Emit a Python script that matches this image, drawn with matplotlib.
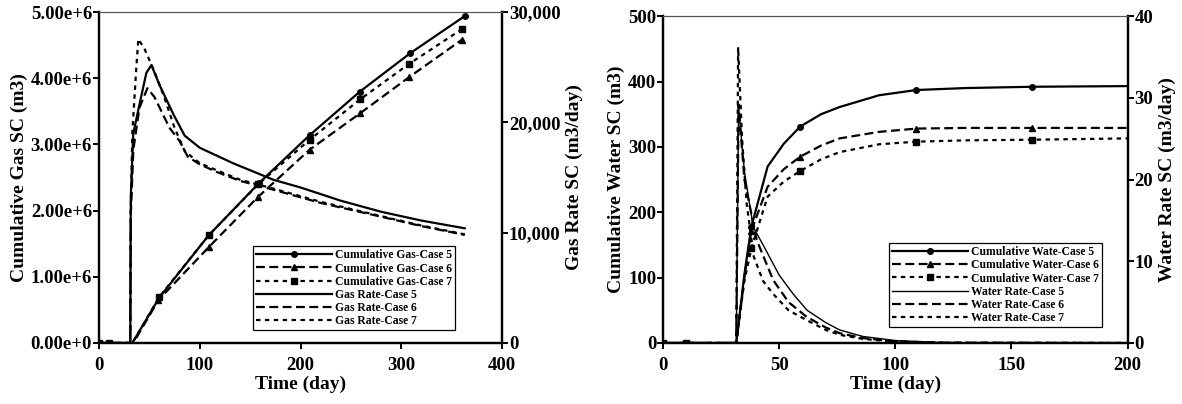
import numpy as np
import matplotlib.pyplot as plt
from matplotlib.ticker import FuncFormatter

# ---- данные: газ ----
gas_cum_t5 = [0, 10, 30, 33, 60, 109, 159, 209, 259, 309, 363]
gas_cum_5 = [0, 0, 0, 0, 0.69e6, 1.63e6, 2.42e6, 3.14e6, 3.80e6, 4.38e6, 4.94e6]
gas_cum_t6 = [0, 10, 30, 34, 59, 109, 158, 209, 259, 308, 360]
gas_cum_6 = [0, 0, 0, 0, 0.65e6, 1.45e6, 2.21e6, 2.92e6, 3.47e6, 4.02e6, 4.58e6]
gas_cum_t7 = [0, 10, 30, 33, 60, 109, 158, 209, 259, 308, 360]
gas_cum_7 = [0, 0, 0, 0, 0.70e6, 1.63e6, 2.40e6, 3.07e6, 3.68e6, 4.22e6, 4.74e6]
gas_mark = [0, 1, 4, 5, 6, 7, 8, 9, 10]

gas_rate_t5 = [0, 31, 31.5, 34, 41, 47, 52, 60, 74, 85, 100, 133, 173, 200, 240, 280, 320, 363]
gas_rate_5 = [0, 0, 13300, 19000, 22000, 24500, 25200, 23400, 20700, 18800, 17700,
              16300, 14800, 14100, 12900, 11900, 11100, 10400]
gas_rate_t6 = [0, 31, 31.5, 34, 40, 48, 55, 70, 80, 88, 100, 117, 140, 173, 220, 280, 320, 363]
gas_rate_6 = [0, 0, 11500, 17500, 21300, 23100, 22300, 19500, 18300, 16900, 16200,
              15500, 14700, 13900, 12700, 11450, 10600, 9800]
gas_rate_t7 = [0, 31, 31.5, 33, 37, 39, 45, 55, 65, 75, 85, 100, 117, 140, 173, 220, 280, 320, 363]
gas_rate_7 = [0, 0, 12000, 19000, 25000, 27550, 26700, 24600, 22200, 19500, 17400,
              16300, 15650, 14800, 14000, 12800, 11500, 10650, 9850]

# ---- данные: вода ----
wat_cum_t = [0, 10, 31.5, 35, 38, 45, 52, 59, 68, 76, 93, 109, 130, 159, 200]
wat_cum_5 = [0, 0, 0, 105, 178, 270, 305, 331, 350, 361, 379, 387, 390, 392, 393]
wat_cum_6 = [0, 0, 0, 100, 172, 239, 266, 285, 302, 313, 323, 328, 329, 329, 329]
wat_cum_7 = [0, 0, 0, 95, 145, 224, 247, 263, 281, 292, 304, 308, 310, 311, 313]
wat_mark = [0, 1, 4, 7, 11, 13]

wat_rate_t5 = [0, 31.5, 32.5, 35, 38.8, 44, 50, 56, 62, 70, 76, 86, 100, 120, 150, 200]
wat_rate_5 = [0, 0, 28.9, 21, 14.2, 11.5, 8.3, 6.0, 4.0, 2.5, 1.6, 0.8, 0.3, 0.05, 0, 0]
wat_rate_t6 = [0, 31.5, 32.5, 35, 40.3, 47.4, 54, 61.8, 70, 76, 86, 100, 120, 200]
wat_rate_6 = [0, 0, 29.2, 20, 12.6, 7.7, 5.0, 3.2, 1.9, 1.2, 0.6, 0.2, 0.05, 0]
wat_rate_t7 = [0, 31.5, 32.3, 34, 36, 39, 43, 47.4, 54, 61.8, 70, 76, 86, 100, 120, 200]
wat_rate_7 = [0, 0, 36.2, 25, 17, 10.6, 7.6, 6.0, 4.0, 2.8, 1.6, 1.0, 0.5, 0.15, 0.03, 0]

gas_labels = ["Cumulative Gas-Case 5", "Cumulative Gas-Case 6", "Cumulative Gas-Case 7",
              "Gas Rate-Case 5", "Gas Rate-Case 6", "Gas Rate-Case 7"]
wat_labels = ["Cumulative Wate-Case 5", "Cumulative Water-Case 6", "Cumulative Water-Case 7",
              "Water Rate-Case 5", "Water Rate-Case 6", "Water Rate-Case 7"]

plt.rcParams['font.family'] = ['Liberation Serif', 'DejaVu Serif']
plt.rcParams['font.weight'] = 'bold'
plt.rcParams['axes.labelweight'] = 'bold'

DASH = (4, 2)
DOT = (2, 2)

fig = plt.figure(figsize=(11.82, 4.04), dpi=100)
axL = fig.add_axes([0.0838, 0.151, 0.3409, 0.819])
axR = fig.add_axes([0.561, 0.151, 0.393, 0.809])


def style_axes(ax, ax2):
    for a in (ax, ax2):
        a.spines['top'].set_linewidth(0.8)
        a.spines['top'].set_color('#555555')
        for s in ('left', 'right', 'bottom'):
            a.spines[s].set_linewidth(1.6)
        a.tick_params(direction='out', length=4, width=1.4, labelsize=13.5, pad=1)
    ax.tick_params(axis='x', pad=6)


def make_legend(ax2, handles, labels, anchor):
    leg = ax2.legend(handles, labels, loc='lower left', bbox_to_anchor=anchor, borderaxespad=0,
                     fontsize=8.4, handlelength=6.5, numpoints=1, fancybox=False,
                     edgecolor='black', framealpha=1, borderpad=0.25, labelspacing=0.1,
                     handletextpad=0.3)
    leg.get_frame().set_linewidth(0.9)


# ---- левый график ----
ax = axL
ax2 = ax.twinx()
h1, = ax.plot(gas_cum_t5, gas_cum_5, 'k-', lw=1.6, marker='o', ms=4, markevery=gas_mark)
h2, = ax.plot(gas_cum_t6, gas_cum_6, 'k--', lw=1.6, dashes=DASH, marker='^', ms=5, markevery=gas_mark)
h3, = ax.plot(gas_cum_t7, gas_cum_7, 'k--', lw=1.6, dashes=DOT, marker='s', ms=4.5, markevery=gas_mark)
h4, = ax2.plot(gas_rate_t5, gas_rate_5, 'k-', lw=1.6)
h5, = ax2.plot(gas_rate_t6, gas_rate_6, 'k--', lw=1.6, dashes=DASH)
h6, = ax2.plot(gas_rate_t7, gas_rate_7, 'k--', lw=1.6, dashes=DOT)
ax.set_xlim(0, 400)
ax.set_ylim(0, 5e6)
ax2.set_ylim(0, 30000)
ax.set_xticks([0, 100, 200, 300, 400])
ax.set_yticks(np.arange(0, 5.01e6, 1e6))
ax2.set_yticks([0, 10000, 20000, 30000])
ax.yaxis.set_major_formatter(FuncFormatter(lambda v, p: "%.2fe+%d" % (v / 1e6, 6) if v > 0 else "0.00e+0"))
ax2.yaxis.set_major_formatter(FuncFormatter(lambda v, p: "{:,.0f}".format(v)))
ax.set_xlabel("Time (day)", fontsize=14, labelpad=1)
ax.set_ylabel("Cumulative Gas SC (m3)", fontsize=14, labelpad=2)
ax2.set_ylabel("Gas Rate SC (m3/day)", fontsize=14, labelpad=4)
style_axes(ax, ax2)
make_legend(ax2, [h1, h2, h3, h4, h5, h6], gas_labels, (0.382, 0.039))

# ---- правый график ----
ax = axR
ax2 = ax.twinx()
h1, = ax.plot(wat_cum_t, wat_cum_5, 'k-', lw=1.6, marker='o', ms=4, markevery=wat_mark)
h2, = ax.plot(wat_cum_t, wat_cum_6, 'k--', lw=1.6, dashes=DASH, marker='^', ms=5, markevery=wat_mark)
h3, = ax.plot(wat_cum_t, wat_cum_7, 'k--', lw=1.6, dashes=DOT, marker='s', ms=4.5, markevery=wat_mark)
h4, = ax2.plot(wat_rate_t5, wat_rate_5, 'k-', lw=1.0)
h5, = ax2.plot(wat_rate_t6, wat_rate_6, 'k--', lw=1.6, dashes=DASH)
h6, = ax2.plot(wat_rate_t7, wat_rate_7, 'k--', lw=1.6, dashes=DOT)
ax.set_xlim(0, 200)
ax.set_ylim(0, 500)
ax2.set_ylim(0, 40)
ax.set_xticks([0, 50, 100, 150, 200])
ax.set_yticks([0, 100, 200, 300, 400, 500])
ax2.set_yticks([0, 10, 20, 30, 40])
ax.set_xlabel("Time (day)", fontsize=14, labelpad=1)
ax.set_ylabel("Cumulative Water SC (m3)", fontsize=14, labelpad=2)
ax2.set_ylabel("Water Rate SC (m3/day)", fontsize=14, labelpad=4)
style_axes(ax, ax2)
make_legend(ax2, [h1, h2, h3, h4, h5, h6], wat_labels, (0.486, 0.049))

fig.savefig("out.png", dpi=100)
